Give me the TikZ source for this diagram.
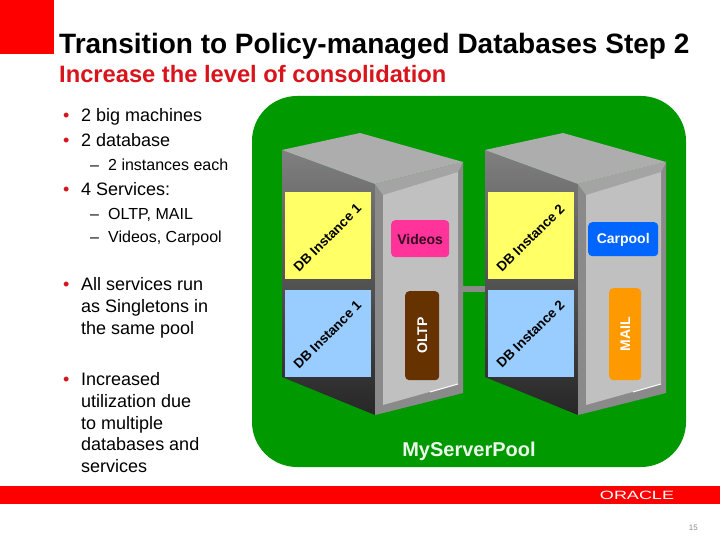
\documentclass[tikz,border=0pt]{standalone}
\usepackage{fontspec}
\setmainfont{Liberation Sans}
\definecolor{poolgreen}{HTML}{009900}
\definecolor{oraclered}{HTML}{FF0000}
\definecolor{subred}{HTML}{D8141C}
\definecolor{yellowbox}{HTML}{FFFF66}
\definecolor{bluebox}{HTML}{99CCFF}
\definecolor{panel}{HTML}{C0C0C0}
\definecolor{topface}{HTML}{ADADAD}
\definecolor{framegray}{HTML}{8A8A8A}
\definecolor{stripgray}{HTML}{A4A4A4}
\definecolor{videopink}{HTML}{FF3399}
\definecolor{oltpbrown}{HTML}{663300}
\definecolor{carpoolblue}{HTML}{0066FF}
\definecolor{mailorange}{HTML}{FF9900}
\tikzset{
  bodytext/.style={anchor=base west,inner sep=0pt,font=\fontsize{18}{18}\selectfont,text=black},
  subtext/.style={anchor=base west,inner sep=0pt,font=\fontsize{16}{16}\selectfont,text=black},
  bulletmark/.style={anchor=base west,inner sep=0pt,font=\fontsize{18}{18}\selectfont,text=subred},
  instbox/.style={anchor=north west,inner sep=0pt,minimum width=86pt,minimum height=87pt},
  insttext/.style={rotate=45,inner sep=0pt,font=\fontsize{13.5}{14}\selectfont\bfseries,text=black},
  svc/.style={rounded corners=4pt,inner sep=0pt,anchor=north west},
  svctext/.style={font=\fontsize{14}{14}\selectfont\bfseries},
}
\newcommand{\serverbody}[1]{%
  \begin{scope}[xshift=#1pt]
    \shade[top color=black!50,middle color=black!62,bottom color=black!85] (282,150) -- (375,184) -- (375,415) -- (282,377) -- cycle;
    \fill[framegray] (375,184) -- (463,162) -- (463,393) -- (375,415) -- cycle;
    \fill[stripgray] (375,184) -- (463,162) -- (458,172) -- (383,195) -- cycle;
    \fill[topface] (282,150) -- (360,133) -- (463,162) -- (375,184) -- cycle;
    \fill[panel] (383,195) -- (458,172) -- (458,384) -- (383,405) -- cycle;
    \draw[white,line width=1pt] (430,392) -- (458,384);
  \end{scope}}
\begin{document}
\begin{tikzpicture}[x=1pt,y=-1pt]
\useasboundingbox[fill=white] (0,0) rectangle (720,540);
\fill[oraclered] (0,0) rectangle (54,54);
\fill[oraclered] (0,486) rectangle (720,504);
\node[anchor=base west,inner sep=0pt,font=\fontsize{28}{28}\selectfont\bfseries] (title) at (59,54) {Transition to Policy-managed Databases Step 2};
\node[anchor=base west,inner sep=0pt,font=\fontsize{23.7}{24}\selectfont\bfseries,text=subred] (subtitle) at (59,83) {Increase the level of consolidation};
% body
\node[bulletmark] (b1) at (63,122) {•};
\node[bodytext] (t1) at (81,122) {2 big machines};
\node[bulletmark] (b2) at (63,147) {•};
\node[bodytext] (t2) at (81,147) {2 database};
\node[subtext] (d3) at (90,171) {–};
\node[subtext] (t3) at (108,171) {2 instances each};
\node[bulletmark] (b4) at (63,196) {•};
\node[bodytext] (t4) at (81,196) {4 Services:};
\node[subtext] (d5) at (90,220) {–};
\node[subtext] (t5) at (108,220) {OLTP, MAIL};
\node[subtext] (d6) at (90,243) {–};
\node[subtext] (t6) at (108,243) {Videos, Carpool};
\node[bulletmark] (b7) at (63,290) {•};
\node[bodytext] (t7a) at (81,290) {All services run};
\node[bodytext] (t7b) at (81,312) {as Singletons in};
\node[bodytext] (t7c) at (81,334) {the same pool};
\node[bulletmark] (b8) at (63,385) {•};
\node[bodytext] (t8a) at (81,385) {Increased};
\node[bodytext] (t8b) at (81,407) {utilization due};
\node[bodytext] (t8c) at (81,429) {to multiple};
\node[bodytext] (t8d) at (81,450) {databases and};
\node[bodytext] (t8e) at (81,472) {services};
% pool
\fill[poolgreen,rounded corners=45pt] (252,96) rectangle (686,467);
\serverbody{0}
\serverbody{203}
\fill[framegray] (463,286) rectangle (485,292);
% instances
\node[instbox,fill=yellowbox] (y1) at (285,192) {};
\node[instbox,fill=bluebox] (u1) at (285,290) {};
\node[instbox,fill=yellowbox] (y2) at (488,192) {};
\node[instbox,fill=bluebox] (u2) at (488,290) {};
\node[insttext] (y1t) at (327.5,238) {DB Instance 1};
\node[insttext] (u1t) at (327.5,335) {DB Instance 1};
\node[insttext] (y2t) at (530.5,238) {DB Instance 2};
\node[insttext] (u2t) at (530.5,334) {DB Instance 2};
% services
\node[svc,fill=videopink,minimum width=58pt,minimum height=37pt,text=black] (vid) at (391,220) {};
\node[svctext,text=black!80!videopink] at ([yshift=-0.5pt]vid.center) {Videos};
\node[svc,fill=oltpbrown,minimum width=34pt,minimum height=89pt] (oltp) at (405,291) {};
\node[svctext,rotate=90,text=white] at (oltp.center) {OLTP};
\node[svc,fill=carpoolblue,minimum width=70pt,minimum height=34pt] (carp) at (588,222) {};
\node[svctext,text=white] at ([yshift=-0.5pt]carp.center) {Carpool};
\node[svc,fill=mailorange,minimum width=32pt,minimum height=92pt] (mail) at (609,288) {};
\node[svctext,rotate=90,text=white] at (mail.center) {MAIL};
\node[anchor=base,inner sep=0pt,font=\fontsize{20}{20}\selectfont\bfseries,text=white!92!poolgreen] (pooln) at (469,456) {MyServerPool};
% footer
\node[inner sep=0pt,text=white] (oracle) at (637,495) {\scalebox{1.5}[1]{\fontsize{12}{12}\selectfont ORACLE}};
\node[anchor=base east,inner sep=0pt,font=\fontsize{8}{8}\selectfont,text=black!45] (pageno) at (698,530) {15};
\end{tikzpicture}
\end{document}
